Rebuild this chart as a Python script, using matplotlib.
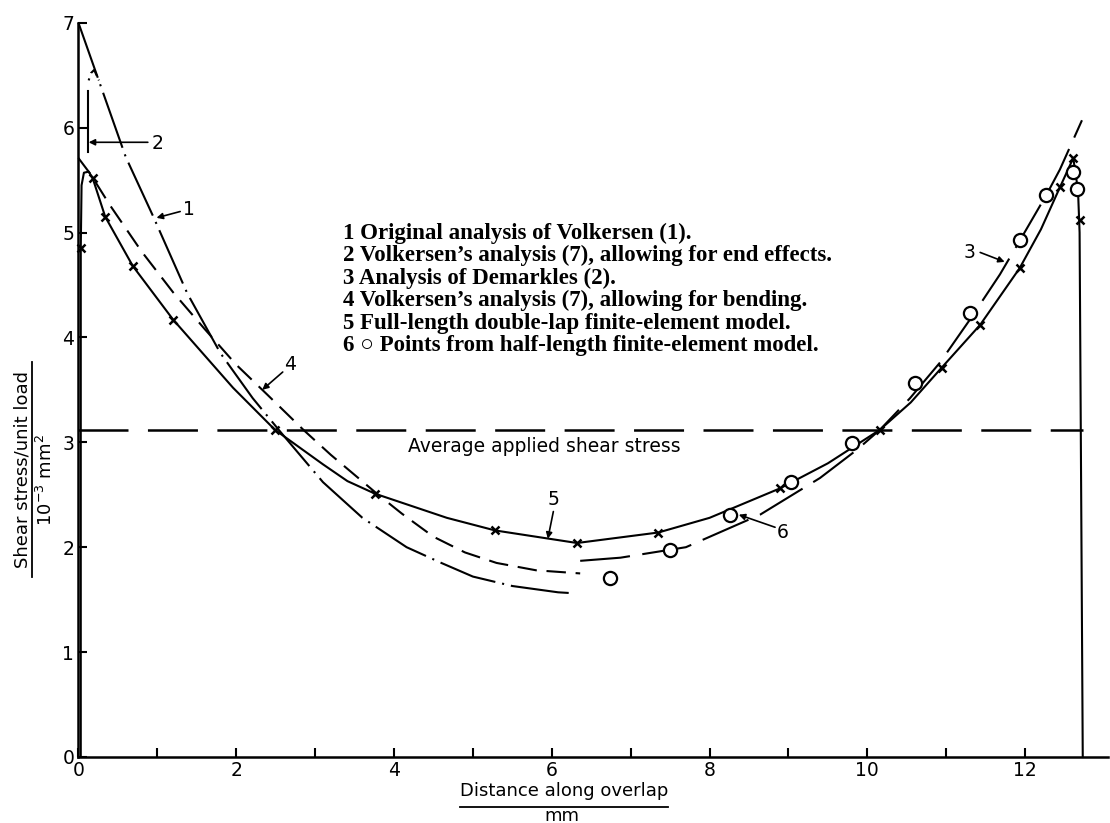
import matplotlib
matplotlib.use("Agg")
import matplotlib.pyplot as plt
from matplotlib.lines import Line2D

plt.rcParams['lines.scale_dashes'] = False
plt.rcParams['font.family'] = ['DejaVu Sans']

# 1 Original analysis of Volkersen (dash-dot, left half)
v1_x = [0.0, 0.3, 0.6, 0.95, 1.38, 1.8, 2.21, 2.56, 3.1, 3.6, 4.16, 4.6, 5.0, 5.5, 6.08, 6.3]
v1_y = [7.0, 6.36, 5.72, 5.15, 4.42, 3.85, 3.42, 3.1, 2.62, 2.28, 2.0, 1.85, 1.72, 1.63, 1.57, 1.56]

# 2 Volkersen with end effects: rises at the end, then joins curve 1
v2_rise_x = [0.12, 0.12]
v2_rise_y = [5.77, 6.35]
v2_top_x = [0.13, 0.16, 0.2, 0.26]
v2_top_y = [6.45, 6.52, 6.55, 6.45]

# 3 Demarkles (long dashes, right half)
dm_x = [6.36, 6.87, 7.7, 8.64, 9.4, 9.87, 10.16, 10.54, 10.92, 11.3, 11.68, 11.93, 12.27, 12.44, 12.72]
dm_y = [1.87, 1.9, 2.0, 2.31, 2.66, 2.93, 3.12, 3.42, 3.76, 4.17, 4.6, 4.92, 5.36, 5.6, 6.07]

# 4 Volkersen with bending (dashes, left half)
vb_x = [0.0, 0.15, 0.4, 0.8, 1.2, 1.6, 2.0, 2.4, 2.85, 3.2, 3.5, 3.8, 4.1, 4.5, 4.9, 5.3, 5.8, 6.36]
vb_y = [5.71, 5.56, 5.26, 4.82, 4.43, 4.08, 3.74, 3.45, 3.12, 2.88, 2.69, 2.5, 2.32, 2.1, 1.95, 1.85, 1.78, 1.75]

# 5 full-length double-lap FE model: curve and mesh nodes
fe_x = [0.03, 0.03, 0.04, 0.07, 0.13, 0.18, 0.34, 0.69, 1.2, 1.96, 2.49, 3.1, 3.41, 3.76, 4.67, 5.28,
        6.32, 7.35, 8.0, 8.89, 9.5, 10.16, 10.55, 10.94, 11.43, 11.93, 12.2, 12.44, 12.61, 12.67, 12.69, 12.73]
fe_y = [0.0, 4.85, 5.45, 5.57, 5.58, 5.52, 5.15, 4.68, 4.17, 3.52, 3.12, 2.79, 2.63, 2.51, 2.28, 2.16,
        2.04, 2.14, 2.28, 2.56, 2.80, 3.12, 3.38, 3.71, 4.12, 4.66, 5.03, 5.43, 5.71, 5.4, 5.0, 0.0]
node_x = [0.03, 0.18, 0.34, 0.69, 1.2, 2.49, 3.76, 5.28, 6.32, 7.35, 8.89, 10.16, 10.94, 11.43, 11.93, 12.44, 12.61, 12.69]
node_y = [4.85, 5.52, 5.15, 4.68, 4.17, 3.12, 2.51, 2.16, 2.04, 2.14, 2.56, 3.12, 3.71, 4.12, 4.66, 5.43, 5.71, 5.12]

# 6 half-length FE model points
half_x = [6.74, 7.5, 8.26, 9.03, 9.81, 10.6, 11.3, 11.93, 12.27, 12.61, 12.66]
half_y = [1.71, 1.97, 2.31, 2.62, 2.99, 3.57, 4.23, 4.93, 5.36, 5.58, 5.41]

avg_stress = 3.12
avg_x = [0.0, 12.73]

legend_lines = [
    "1 Original analysis of Volkersen (1).",
    "2 Volkersen\u2019s analysis (7), allowing for end effects.",
    "3 Analysis of Demarkles (2).",
    "4 Volkersen\u2019s analysis (7), allowing for bending.",
    "5 Full-length double-lap finite-element model.",
    "6 \u25cb Points from half-length finite-element model.",
]

# curve number labels: text position, arrow tail, arrow tip
callouts = [
    ("1", (1.32, 5.22), (1.29, 5.2), (0.99, 5.14)),
    ("2", (0.93, 5.85), (0.88, 5.86), (0.13, 5.86)),
    ("3", (11.3, 4.81), (11.43, 4.81), (11.74, 4.72)),
    ("4", (2.68, 3.74), (2.59, 3.67), (2.33, 3.50)),
    ("5", (6.02, 2.45), (6.02, 2.34), (5.95, 2.08)),
    ("6", (8.93, 2.14), (8.83, 2.19), (8.37, 2.31)),
]

W, H = 1110, 823
fig = plt.figure(figsize=(W / 100, H / 100), dpi=100)
ax = fig.add_axes([78.4 / W, (H - 757) / H, (1108 - 78.4) / W, (757 - 22.7) / H])
ax.set_xlim(0, 13.05)
ax.set_ylim(0, 7)

lw = 1.5
dashdot = (42, 5, 1.5, 5)
ax.plot(v1_x, v1_y, color='black', lw=lw, dashes=dashdot, clip_on=False)
ax.plot(v2_rise_x, v2_rise_y, color='black', lw=lw, clip_on=False)
ax.plot(v2_top_x, v2_top_y, color='black', lw=lw, dashes=(1.5, 4, 8, 3), clip_on=False)
ax.plot(vb_x, vb_y, color='black', lw=lw, dashes=(14, 7), clip_on=False)
ax.plot(dm_x, dm_y, color='black', lw=lw, dashes=(36, 9), clip_on=False)
ax.plot(fe_x, fe_y, color='black', lw=lw, clip_on=False)
ax.plot(node_x, node_y, ls='none', marker='x', ms=5.5, mew=1.8, color='black', clip_on=False)
ax.plot(half_x, half_y, ls='none', marker='o', ms=9.5, mew=1.6, mfc='white', mec='black', clip_on=False)

ax.plot(avg_x, [avg_stress, avg_stress], color='black', lw=1.8, dashes=(36, 14), clip_on=False)
ax.text(5.9, avg_stress - 0.16, "Average applied shear stress", fontsize=13.5,
        ha='center', va='center')

for num, txt_xy, tail, tip in callouts:
    ax.text(txt_xy[0], txt_xy[1], num, fontsize=13.5, ha='left' if num in "12" else 'center', va='center')
    ax.annotate('', xy=tip, xytext=tail,
                arrowprops=dict(arrowstyle='-|>', lw=1.2, color='black',
                                mutation_scale=9, shrinkA=0, shrinkB=0))

for i, line in enumerate(legend_lines):
    fig.text(343 / W, 1 - (233 + 22.6 * i) / H, line, fontsize=16.5, fontweight='bold',
             family=['Liberation Serif', 'DejaVu Serif'], ha='left', va='center')

# axes: left and bottom spines, ticks pointing inward
for side in ('top', 'right'):
    ax.spines[side].set_visible(False)
for side in ('left', 'bottom'):
    ax.spines[side].set_linewidth(1.8)
ax.set_xticks(range(0, 13, 2))
ax.set_xticks(range(1, 13, 2), minor=True)
ax.set_yticks(range(0, 8))
ax.tick_params(which='both', direction='in', length=6.5, width=1.5, labelsize=13.5)
ax.tick_params(axis='x', pad=3)
ax.tick_params(axis='y', pad=3)

# y label drawn as a fraction: quantity over unit
fig.text(23 / W, 1 - 470 / H, "Shear stress/unit load", rotation=90, fontsize=13,
         ha='center', va='center')
fig.add_artist(Line2D([32 / W, 32 / W], [1 - 362 / H, 1 - 577 / H], color='black', lw=1.3))
fig.text(46 / W, 1 - 480 / H, r"10$^{-3}$ mm$^{2}$", rotation=90, fontsize=13,
         ha='center', va='center')

# x label, same style
fig.text(564 / W, 1 - 791 / H, "Distance along overlap", fontsize=13, ha='center', va='center')
fig.add_artist(Line2D([460 / W, 668 / W], [1 - 807 / H, 1 - 807 / H], color='black', lw=1.3))
fig.text(562 / W, 1 - 821 / H, "mm", fontsize=13, ha='center', va='baseline')

fig.savefig("out.png", dpi=100)
